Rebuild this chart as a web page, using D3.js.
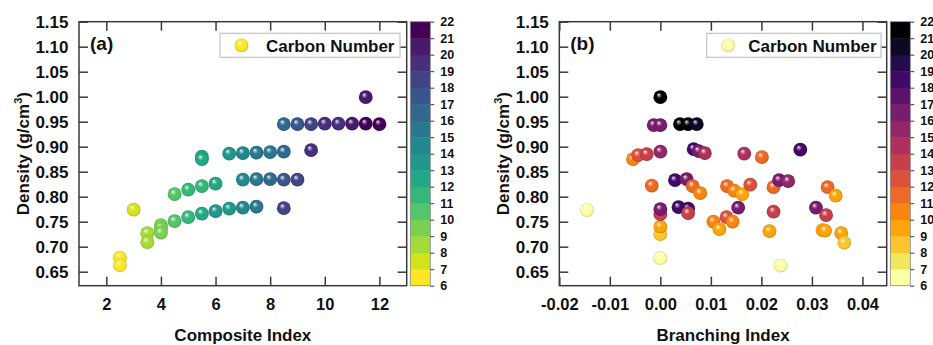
<!DOCTYPE html>
<html>
<head>
<meta charset="utf-8" />
<title></title>
<style>
html, body {
    margin: 0px;
    padding: 0px;
    background: #fff;
}
svg text {
    font-family: "Liberation Sans", Arial, sans-serif;
    font-weight: bold;
    fill: #111;
}
</style>
</head>
<body>
<svg id="chart" width="933" height="345"></svg>

<script src="https://cdnjs.cloudflare.com/ajax/libs/d3/7.8.5/d3.min.js"></script>
<script>
// panel (a): composite index vs density
var compositeIndex = [2.5, 2.5, 3.0, 3.5, 3.5, 4.0, 4.0, 4.0, 4.5, 4.5,
    5.0, 5.0, 5.5, 5.5, 5.5, 5.5, 6.0, 6.0, 6.5, 6.5,
    7.0, 7.0, 7.0, 7.5, 7.5, 7.5, 8.0, 8.0, 8.5, 8.5,
    8.5, 8.5, 9.0, 9.0, 9.5, 9.5, 10.0, 10.5, 11.0, 11.5,
    11.5, 12.0];
var densityA = [0.678, 0.663, 0.774, 0.727, 0.709, 0.743, 0.737, 0.728, 0.805, 0.751,
    0.814, 0.759, 0.821, 0.766, 0.880, 0.875, 0.826, 0.771, 0.886, 0.776,
    0.887, 0.834, 0.778, 0.888, 0.835, 0.780, 0.889, 0.835, 0.890, 0.834,
    0.777, 0.945, 0.834, 0.945, 0.893, 0.945, 0.946, 0.946, 0.946, 0.946,
    0.999, 0.945];
var carbonA = [6, 6, 7, 8, 8, 9, 9, 9, 10, 10,
    11, 11, 11, 12, 12, 12, 12, 13, 13, 13,
    14, 14, 14, 15, 15, 15, 15, 16, 16, 17,
    18, 16, 18, 17, 19, 18, 19, 19, 20, 21,
    20, 22];

// panel (b): branching index vs density
var branchingIndex = [-0.0145, 0.0, 0.0238, 0.0, 0.0, 0.0, 0.0, -0.0017, 0.0029, 0.0052,
    0.0064, 0.0079, 0.0036, 0.0055, 0.0055, -0.0054, -0.0044, -0.0027, 0.0, 0.0,
    -0.0013, 0.0, 0.0039, 0.0055, 0.0072, 0.0066, 0.0076, 0.0088, 0.0166, 0.0201,
    0.0277, 0.0105, 0.0117, 0.0131, 0.0143, 0.0154, 0.0132, 0.0146, 0.0162, 0.0178,
    0.0224, 0.0235, 0.0253, 0.0224, 0.0216, 0.0308, 0.0328, 0.0321, 0.0326, 0.0331,
    0.0347, 0.0358, 0.0364];
var densityB = [0.773, 0.677, 0.662, 0.725, 0.740, 0.765, 0.775, 0.822, 0.833, 0.835,
    0.821, 0.807, 0.779, 0.776, 0.767, 0.875, 0.883, 0.885, 0.890, 0.999,
    0.943, 0.943, 0.945, 0.945, 0.945, 0.895, 0.891, 0.887, 0.886, 0.879,
    0.894, 0.750, 0.735, 0.759, 0.750, 0.778, 0.821, 0.812, 0.805, 0.824,
    0.819, 0.833, 0.831, 0.770, 0.731, 0.778, 0.763, 0.733, 0.732, 0.819,
    0.802, 0.727, 0.708];
var carbonB = [6, 6, 6, 8, 9, 13, 16, 11, 18, 16,
    11, 10, 18, 18, 13, 10, 12, 13, 15, 21,
    16, 16, 21, 22, 20, 18, 16, 14, 14, 11,
    18, 10, 9, 12, 10, 16, 11, 10, 9, 12,
    11, 16, 15, 13, 9, 16, 13, 9, 9, 11,
    9, 9, 8];

var densityTicks = [0.65, 0.70, 0.75, 0.80, 0.85, 0.90, 0.95, 1.00, 1.05, 1.10, 1.15];
var compositeTicks = [2, 4, 6, 8, 10, 12];
var branchTicks = [-0.02, -0.01, 0, 0.01, 0.02, 0.03, 0.04];
var carbonTicks = [6, 7, 8, 9, 10, 11, 12, 13, 14, 15, 16, 17, 18, 19, 20, 21, 22];

!(function(){
    "use strict";

    var svg = d3.select("#chart");
    var defs = svg.append("defs");
    var top = 21.7, bottom = 285.7;

    var y = d3.scaleLinear().domain([0.622, 1.15]).range([bottom, top]);

    drawPanel({
        id: "a", label: "(a)", title: "Composite Index",
        left: 79, right: 406.7, xDomain: [1, 13], xTicks: compositeTicks,
        xFmt: d3.format("d"), xs: compositeIndex, ys: densityA, cs: carbonA,
        interp: d3.interpolateViridis, legendX: 220, legendW: 180, legendText: 46
    });
    drawPanel({
        id: "b", label: "(b)", title: "Branching Index",
        left: 559.3, right: 886.7, xDomain: [-0.02, 0.0448], xTicks: branchTicks,
        xFmt: function(d) { return d.toFixed(2); }, xs: branchingIndex, ys: densityB, cs: carbonB,
        interp: d3.interpolateInferno, legendX: 706.7, legendW: 174.3, legendText: 41.5
    });

    function bandColor(interp, n) {
        var i = Math.max(0, Math.min(n - 6, 15));
        return interp(1 - i / 15);
    }

    function sphere(id, base) {
        var gr = defs.append("radialGradient").attr("id", id)
            .attr("cx", "50%").attr("cy", "50%").attr("r", "50%")
            .attr("fx", "36%").attr("fy", "30%");
        var stops = [
            [0, "#ffffff"],
            [0.13, d3.interpolateRgb(base, "#ffffff")(0.6)],
            [0.42, base],
            [0.8, base],
            [1, d3.rgb(base).darker(0.6).formatHex()]
        ];
        stops.forEach(function(s) {
            gr.append("stop").attr("offset", s[0]).attr("stop-color", s[1]);
        });
    }

    function styleAxis(sel, size) {
        sel.attr("font-family", null).attr("font-size", null);
        sel.select(".domain").remove();
        sel.selectAll(".tick line").attr("stroke", "#3a3a3a").attr("stroke-width", 1.5);
        sel.selectAll("text").style("font-size", size + "px");
    }

    function drawPanel(p) {
        var g = svg.append("g");
        var x = d3.scaleLinear().domain(p.xDomain).range([p.left, p.right]);

        // gradients for every carbon number
        carbonTicks.forEach(function(n) {
            sphere(p.id + "-c" + n, bandColor(p.interp, n));
        });

        // axes, ticks pointing inward
        g.append("g").attr("transform", "translate(0," + bottom + ")")
            .call(d3.axisBottom(x).tickValues(p.xTicks).tickSizeInner(-9).tickSizeOuter(0)
                .tickPadding(12.5).tickFormat(p.xFmt))
            .call(styleAxis, 16.5);
        g.append("g").attr("transform", "translate(0," + top + ")")
            .call(d3.axisTop(x).tickValues(p.xTicks).tickSizeInner(-9).tickSizeOuter(0).tickFormat(""))
            .call(styleAxis, 16.5);
        g.append("g").attr("transform", "translate(" + p.left + ",0)")
            .call(d3.axisLeft(y).tickValues(densityTicks).tickSizeInner(-9).tickSizeOuter(0)
                .tickPadding(10.5).tickFormat(d3.format(".2f")))
            .call(styleAxis, 17);
        g.append("g").attr("transform", "translate(" + p.right + ",0)")
            .call(d3.axisRight(y).tickValues(densityTicks).tickSizeInner(-9).tickSizeOuter(0).tickFormat(""))
            .call(styleAxis, 17);

        g.append("rect")
            .attr("x", p.left).attr("y", top)
            .attr("width", p.right - p.left).attr("height", bottom - top)
            .attr("fill", "none").attr("stroke", "#3a3a3a").attr("stroke-width", 1.5);

        // points
        var pts = d3.range(p.xs.length).map(function(i) {
            return {x: p.xs[i], y: p.ys[i], c: p.cs[i]};
        });
        g.append("g").selectAll("circle")
            .data(pts)
            .enter()
            .append("circle")
            .attr("cx", function(d) { return x(d.x); })
            .attr("cy", function(d) { return y(d.y); })
            .attr("r", 6.9)
            .attr("fill", function(d) { return "url(#" + p.id + "-c" + d.c + ")"; });

        // panel label
        g.append("text").attr("x", p.left + 11).attr("y", 50)
            .style("font-size", "19px").text(p.label);

        // legend
        g.append("rect").attr("x", p.legendX).attr("y", 33.3)
            .attr("width", p.legendW).attr("height", 24)
            .attr("fill", "#fff").attr("stroke", "#c4c4c4").attr("stroke-width", 1.2);
        g.append("circle").attr("cx", p.legendX + 21.5).attr("cy", 45.3).attr("r", 6.9)
            .attr("fill", "url(#" + p.id + "-c6)");
        g.append("text").attr("x", p.legendX + p.legendText).attr("y", 51.5)
            .style("font-size", "17px").text("Carbon Number");

        // axis titles
        g.append("text").attr("x", (p.left + p.right) / 2).attr("y", 340.5)
            .attr("text-anchor", "middle").style("font-size", "17px").text(p.title);
        var yt = g.append("text")
            .attr("transform", "translate(" + (p.left - 50) + "," + ((top + bottom) / 2) + ") rotate(-90)")
            .attr("text-anchor", "middle").style("font-size", "17px");
        yt.append("tspan").text("Density (g/cm");
        yt.append("tspan").attr("dy", -7).style("font-size", "11px").text("3");
        yt.append("tspan").attr("dy", 7).text(")");

        // colour bar
        var cbx = p.right + 3.6, cbw = 20;
        var cb = d3.scaleLinear().domain([6, 22]).range([bottom, top]);
        var bands = carbonTicks.slice(0, 16);
        g.append("g").selectAll("rect")
            .data(bands)
            .enter()
            .append("rect")
            .attr("x", cbx)
            .attr("y", function(d) { return cb(d + 1); })
            .attr("width", cbw)
            .attr("height", function(d) { return cb(d) - cb(d + 1) + 0.4; })
            .attr("fill", function(d) { return bandColor(p.interp, d); });
        g.append("rect").attr("x", cbx).attr("y", top).attr("width", cbw).attr("height", bottom - top)
            .attr("fill", "none").attr("stroke", "#888").attr("stroke-width", 0.8);
        g.append("g").attr("transform", "translate(" + (cbx + cbw) + ",0)")
            .call(d3.axisRight(cb).tickValues(carbonTicks).tickSizeInner(4).tickSizeOuter(0)
                .tickPadding(6).tickFormat(d3.format("d")))
            .call(function(sel) {
                styleAxis(sel, 12.5);
                sel.selectAll(".tick line").attr("stroke-width", 1);
            });
    }

}());
</script>
</body>
</html>
